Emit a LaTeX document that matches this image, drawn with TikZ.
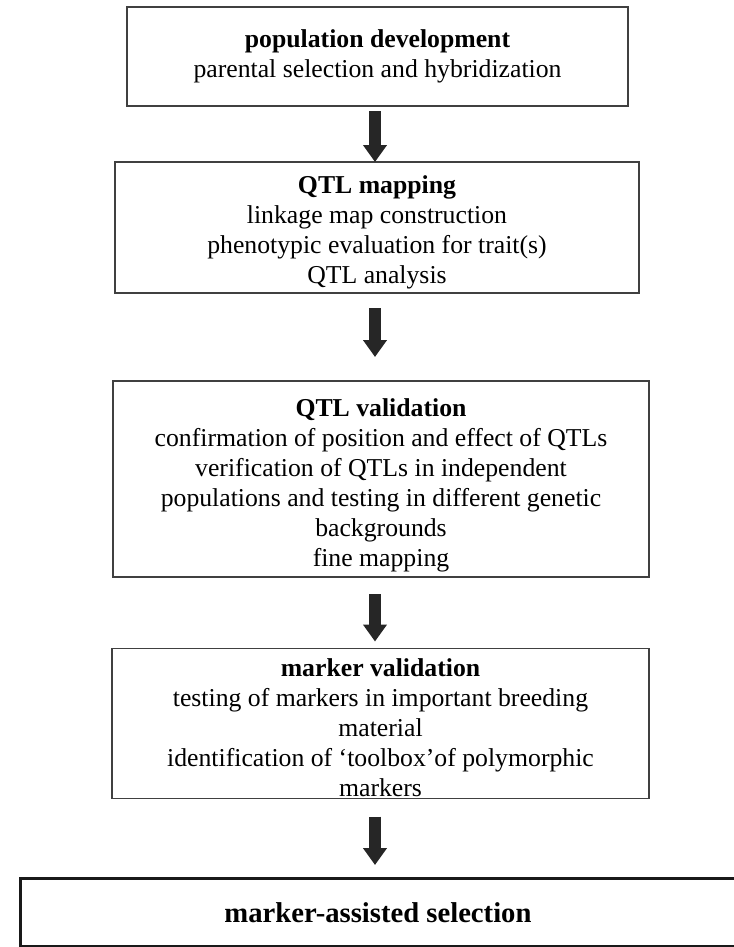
\documentclass[tikz,border=0pt]{standalone}
\usepackage{fontspec}
\setmainfont{Liberation Serif}
\usetikzlibrary{arrows.meta}
\tikzset{
  stage/.style={draw=black!75, line width=1.1pt, inner sep=0pt, outer sep=0pt, align=center,
    font=\fontsize{19.3}{22.5}\selectfont},
  goal/.style={draw=black!90, line width=2.6pt, inner sep=0pt, outer sep=0pt,
    font=\fontsize{21.5}{25}\selectfont\bfseries},
  bigarrow/.style={draw=black!85, line width=9pt, -{Triangle[length=12.75pt,width=17.25pt]}}
}
\newcommand{\lift}[1]{\rule{0pt}{#1}}
\begin{document}
\begin{tikzpicture}[x=0.75pt, y=-0.75pt]
    \useasboundingbox (0,0) rectangle (734,947);
    \coordinate (axis) at (375,0);
    \node[stage, minimum width=375.75pt, minimum height=74.25pt] (pd) at (377.5,56.5)
      {\textbf{population development}\\parental selection and hybridization};
    \node[stage, minimum width=393pt, minimum height=98.25pt] (qm) at (377,227.5)
      {\lift{20.7pt}\textbf{QTL mapping}\\linkage map construction\\phenotypic evaluation for trait(s)\\QTL analysis};
    \node[stage, minimum width=402pt, minimum height=147pt] (qv) at (381,479)
      {\lift{22.2pt}\textbf{QTL validation}\\confirmation of position and effect of QTLs\\verification of QTLs in independent\\populations and testing in different genetic\\backgrounds\\fine mapping};
    \node[stage, minimum width=402.75pt, minimum height=112.5pt] (mv) at (380.5,723.5)
      {\lift{19.2pt}\textbf{marker validation}\\testing of markers in important breeding\\material\\identification of `toolbox'of polymorphic\\markers};
    \node[goal, minimum width=536.25pt, minimum height=51.4pt] (mas) at (378,912.75)
      {marker-assisted selection};
    \draw[bigarrow, shorten <=3.75pt] (pd.south -| axis) -- (qm.north -| axis);
    \draw[bigarrow, shorten <=11.25pt, shorten >=18pt] (qm.south -| axis) -- (qv.north -| axis);
    \draw[bigarrow, shorten <=12.75pt, shorten >=5.25pt] (qv.south -| axis) -- (mv.north -| axis);
    \draw[bigarrow, shorten <=13.5pt, shorten >=10.1pt] (mv.south -| axis) -- (mas.north -| axis);
  \end{tikzpicture}
\end{document}
